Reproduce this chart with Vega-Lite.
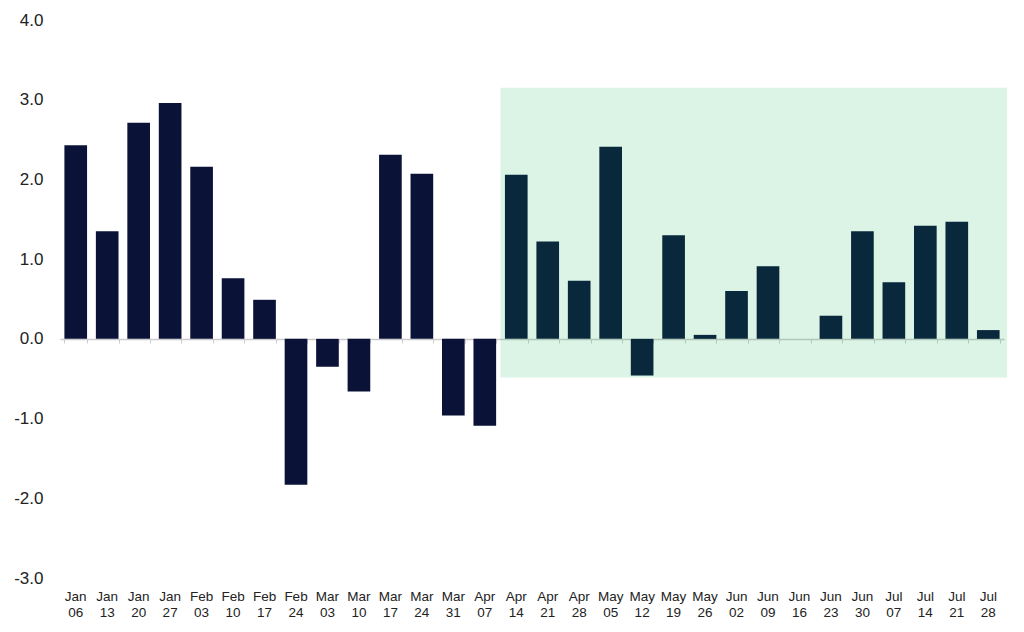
{
  "$schema": "https://vega.github.io/schema/vega-lite/v6.json",
  "width": 944,
  "height": 558,
  "autosize": {"type": "none"},
  "padding": {"left": 60, "top": 20, "right": 20, "bottom": 54},
  "background": "white",
  "config": {"view": {"stroke": null}, "font": "Liberation Sans"},
  "datasets": {
    "weeks": [
      {"week": "Jan 06", "value": 2.43},
      {"week": "Jan 13", "value": 1.35},
      {"week": "Jan 20", "value": 2.71},
      {"week": "Jan 27", "value": 2.96},
      {"week": "Feb 03", "value": 2.16},
      {"week": "Feb 10", "value": 0.76},
      {"week": "Feb 17", "value": 0.49},
      {"week": "Feb 24", "value": -1.83},
      {"week": "Mar 03", "value": -0.35},
      {"week": "Mar 10", "value": -0.66},
      {"week": "Mar 17", "value": 2.31},
      {"week": "Mar 24", "value": 2.07},
      {"week": "Mar 31", "value": -0.96},
      {"week": "Apr 07", "value": -1.09},
      {"week": "Apr 14", "value": 2.06},
      {"week": "Apr 21", "value": 1.22},
      {"week": "Apr 28", "value": 0.73},
      {"week": "May 05", "value": 2.41},
      {"week": "May 12", "value": -0.46},
      {"week": "May 19", "value": 1.30},
      {"week": "May 26", "value": 0.05},
      {"week": "Jun 02", "value": 0.60},
      {"week": "Jun 09", "value": 0.91},
      {"week": "Jun 16", "value": 0.0},
      {"week": "Jun 23", "value": 0.29},
      {"week": "Jun 30", "value": 1.35},
      {"week": "Jul 07", "value": 0.71},
      {"week": "Jul 14", "value": 1.42},
      {"week": "Jul 21", "value": 1.47},
      {"week": "Jul 28", "value": 0.11}
    ],
    "shade": [
      {"start": 14, "end": 30.1, "top": 3.15, "bottom": -0.485}
    ]
  },
  "layer": [
    {
      "data": {"name": "weeks"},
      "layer": [
        {
          "mark": {"type": "bar", "color": "#0b1238"},
          "encoding": {
            "x": {
              "field": "week", "type": "ordinal", "sort": null,
              "scale": {"paddingInner": 0.28, "paddingOuter": 0.14},
              "axis": {
                "orient": "bottom", "title": null, "domain": false, "ticks": false,
                "labelAngle": 0, "labelFontSize": 13.5, "labelColor": "#222222",
                "labelPadding": 11, "labelLineHeight": 16,
                "labelExpr": "split(datum.label, ' ')"
              }
            },
            "y": {
              "field": "value", "type": "quantitative",
              "scale": {"domain": [-3, 4], "nice": false, "zero": false},
              "axis": {
                "title": null, "domain": false, "ticks": false, "grid": false,
                "values": [-3, -2, -1, 0, 1, 2, 3, 4], "format": ".1f",
                "labelExpr": "replace(datum.label, '\u2212', '-')",
                "labelFontSize": 17, "labelColor": "#222222", "labelPadding": 17
              }
            }
          }
        },
        {
          "mark": {"type": "bar", "opacity": 0},
          "encoding": {
            "x": {
              "field": "week", "type": "ordinal", "sort": null,
              "scale": {"paddingInner": 0.28, "paddingOuter": 0.14},
              "axis": {
                "orient": "top", "offset": -319, "title": null, "labels": false,
                "domain": true, "domainColor": "#cccccc", "domainWidth": 1.5,
                "ticks": true, "tickColor": "#cccccc", "tickSize": -4, "tickWidth": 1,
                "tickBand": "extent", "grid": false
              }
            },
            "y": {"field": "value", "type": "quantitative"}
          }
        }
      ],
      "resolve": {"axis": {"x": "independent"}}
    },
    {
      "data": {"name": "shade"},
      "mark": {"type": "rect", "color": "#00b050", "opacity": 0.14},
      "encoding": {
        "x": {"field": "start", "type": "quantitative", "scale": {"domain": [0, 30], "nice": false, "zero": false}, "axis": null},
        "x2": {"field": "end"},
        "y": {"field": "top", "type": "quantitative"},
        "y2": {"field": "bottom"}
      }
    }
  ],
  "resolve": {"scale": {"x": "independent"}}
}
